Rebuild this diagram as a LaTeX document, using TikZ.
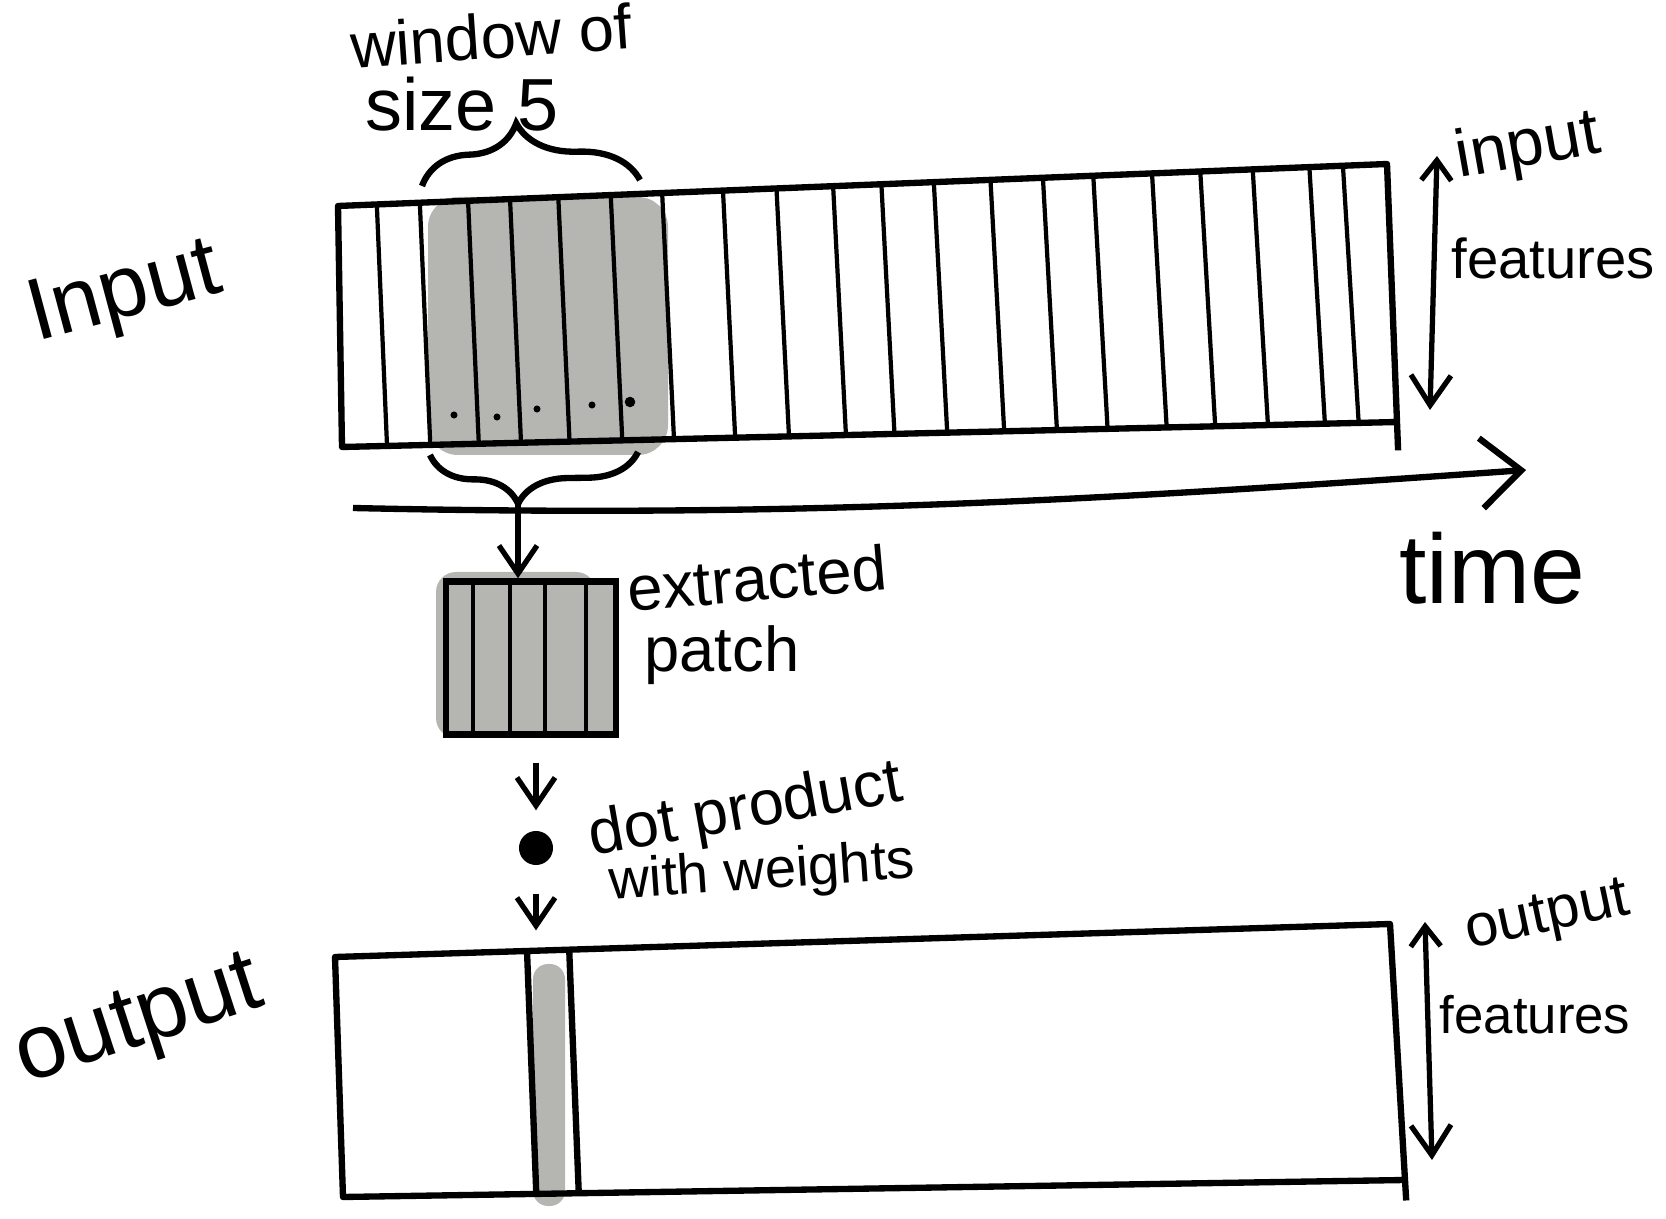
\documentclass[tikz,border=0pt]{standalone}
\usepackage{fontspec}
\setmainfont{Liberation Sans}
\usetikzlibrary{arrows.meta, calc, decorations.pathreplacing}
\definecolor{winGray}{RGB}{181,182,178}

\begin{document}
\begin{tikzpicture}[x=0.01cm, y=-0.01cm,
        edge/.style={line width=1.8pt, line join=round},
        col/.style={line width=1.2pt},
        arr/.style={line width=1.5pt, -{Straight Barb[length=2.8mm, width=3.8mm]}},
        dblarr/.style={line width=1.5pt, {Straight Barb[length=2mm, width=3mm]}-{Straight Barb[length=3mm, width=4mm]}},
        brc/.style={decorate, line width=1.8pt, decoration={brace, amplitude=#1}},
        lbl/.style={inner sep=0pt, font=\fontsize{#1}{#1}\selectfont}]
    \useasboundingbox (0,0) rectangle (1666,1219);

    \coordinate (itl) at (338,206);
    \coordinate (itr) at (1387,164);
    \coordinate (ibr) at (1397,422);
    \coordinate (ibl) at (342,447);
    \fill[winGray, rounded corners=0.3cm] (428,197) rectangle (668,455);
    \draw[edge] (ibr) -- (ibl) -- (itl) -- (itr) -- ($(itr)!1.11!(ibr)$);
    \foreach \t in {0.037,0.078,0.124,0.164,0.210,0.260,0.309,0.367,0.418,0.472,
                    0.518,0.568,0.622,0.672,0.720,0.776,0.822,0.872,0.926,0.958}
        \draw[col] ($(itl)!\t!(itr)$) -- ($(ibl)!\t!(ibr) + (6,0)$);
    \foreach \p in {(454,415),(497,417),(537,409),(592,405)}
        \fill \p circle (1pt);
    \fill (630,402) circle (1.5pt);

    \draw[brc=0.6cm, decoration={aspect=0.44}] (422,186) -- (640,180);
    \node[lbl=18, rotate=4] (wnd) at (491,36) {window of};
    \node[lbl=21] (sz) at (462,104) {size 5};

    \draw[brc=0.5cm, decoration={aspect=0.58}] (638,452) -- (430,455);
    \coordinate (btip) at (518,502);

    \coordinate (t0) at (353,508);
    \coordinate (t1) at (1526,470);
    \draw[line width=1.8pt, -{Straight Barb[length=4mm, width=7mm]}] (t0) .. controls (800,518) and (1100,500) .. (t1);
    \node[lbl=28] (tlbl) at (1492,568) {time};

    \coordinate (ifa) at (1437,156);
    \coordinate (ifb) at (1430,410);
    \draw[dblarr] (ifa) -- (ifb);
    \node[lbl=19, rotate=10] (infl) at (1528,148) {input};
    \node[lbl=16] (infe) at (1553,258) {features};
    \node[lbl=25, rotate=15] (inlbl) at (125,296) {Input};

    \fill[winGray, rounded corners=0.2cm] (436,572) rectangle (596,738);
    \node[draw, line width=1.8pt, fill=winGray, minimum width=1.7cm, minimum height=1.53cm, inner sep=0pt] (patch) at (531,658) {};
    \foreach \t in {0.17,0.38,0.58,0.81}
        \draw[col] ($(patch.north west)!\t!(patch.north east)$) -- ($(patch.south west)!\t!(patch.south east)$);
    \draw[arr] (btip) -- (btip |- patch.north);
    \node[lbl=18, rotate=5] (exlbl) at (757,578) {extracted};
    \node[lbl=18] (pchl) at (722,655) {patch};

    \node[circle, fill=black, minimum size=0.34cm, inner sep=0pt] (dot) at (536,848) {};
    \draw[arr, shorten <=0.25cm, shorten >=0.2cm] (patch.south -| dot) -- (dot.north);
    \node[lbl=18, rotate=10] (dotl) at (746,812) {dot product};
    \node[lbl=16, rotate=4] (wwl) at (762,874) {with weights};

    \coordinate (otl) at (335,957);
    \coordinate (otr) at (1390,924);
    \coordinate (obr) at (1405,1180);
    \coordinate (obl) at (343,1197);
    \coordinate (ocol) at ($(otl)!0.2!(otr)$);
    \fill[winGray, rounded corners=0.15cm] (533,964) rectangle (565,1206);
    \draw[edge] (obr) -- (obl) -- (otl) -- (otr) -- ($(otr)!1.08!(obr)$);
    \foreach \t in {0.182,0.222}
        \draw[edge] ($(otl)!\t!(otr)$) -- ($(obl)!\t!(obr)$);
    \draw[arr, shorten <=0.28cm, shorten >=0.2cm] (dot.south) -- (dot.south |- ocol);
    \node[lbl=26, rotate=18] (outl) at (140,1025) {output};

    \coordinate (ofa) at (1425,922);
    \coordinate (ofb) at (1432,1160);
    \draw[dblarr] (ofa) -- (ofb);
    \node[lbl=17, rotate=12] (outfl) at (1548,918) {output};
    \node[lbl=15] (outfe) at (1535,1015) {features};
\end{tikzpicture}
\end{document}
